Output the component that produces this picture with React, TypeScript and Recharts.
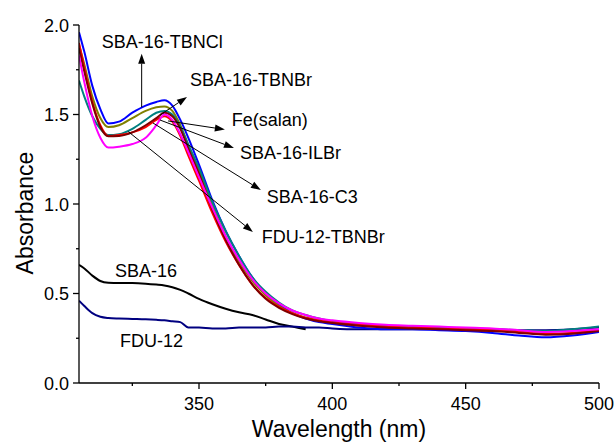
import React from "react";
import { LineChart, Line, XAxis, YAxis, ReferenceLine, ReferenceDot } from "recharts";

// wavelength grid (nm)
const wavelength = [305, 307, 310, 313, 316, 320, 325, 330, 334, 337, 340, 343, 346, 350, 355, 360, 365, 370, 375, 380, 385, 390, 395, 400, 410, 420, 430, 440, 450, 460, 470, 480, 490, 500];

const tbncl = [1.96, 1.85, 1.66, 1.53, 1.45, 1.46, 1.51, 1.55, 1.57, 1.58, 1.55, 1.47, 1.37, 1.22, 1.02, 0.85, 0.71, 0.59, 0.5, 0.44, 0.39, 0.36, 0.34, 0.33, 0.31, 0.3, 0.3, 0.295, 0.29, 0.28, 0.265, 0.255, 0.265, 0.285];
const tbnbr = [1.89, 1.78, 1.6, 1.48, 1.43, 1.44, 1.48, 1.52, 1.54, 1.545, 1.52, 1.44, 1.33, 1.19, 0.99, 0.82, 0.68, 0.57, 0.49, 0.43, 0.39, 0.365, 0.35, 0.34, 0.325, 0.315, 0.31, 0.305, 0.3, 0.295, 0.285, 0.275, 0.28, 0.295];
const fesalan = [1.69, 1.6, 1.49, 1.42, 1.385, 1.39, 1.42, 1.47, 1.51, 1.52, 1.5, 1.43, 1.33, 1.2, 1.01, 0.85, 0.71, 0.59, 0.51, 0.45, 0.405, 0.38, 0.36, 0.345, 0.33, 0.32, 0.315, 0.31, 0.305, 0.3, 0.295, 0.29, 0.3, 0.315];
const ilbr = [1.87, 1.74, 1.56, 1.43, 1.378, 1.38, 1.4, 1.44, 1.48, 1.51, 1.49, 1.42, 1.31, 1.17, 0.97, 0.8, 0.66, 0.55, 0.47, 0.42, 0.385, 0.36, 0.345, 0.335, 0.32, 0.31, 0.305, 0.3, 0.295, 0.29, 0.28, 0.27, 0.275, 0.29];
const c3 = [1.9, 1.76, 1.57, 1.44, 1.38, 1.385, 1.4, 1.43, 1.47, 1.49, 1.46, 1.38, 1.27, 1.13, 0.95, 0.79, 0.66, 0.55, 0.475, 0.425, 0.39, 0.365, 0.35, 0.34, 0.325, 0.315, 0.31, 0.305, 0.3, 0.295, 0.285, 0.275, 0.28, 0.295];
const fdutbnbr = [1.83, 1.68, 1.49, 1.37, 1.315, 1.32, 1.335, 1.37, 1.44, 1.5, 1.47, 1.39, 1.29, 1.15, 0.98, 0.82, 0.69, 0.58, 0.5, 0.445, 0.405, 0.38, 0.36, 0.35, 0.335, 0.325, 0.32, 0.315, 0.31, 0.305, 0.295, 0.285, 0.29, 0.3];
const sba16 = [0.66, 0.64, 0.6, 0.57, 0.56, 0.558, 0.558, 0.555, 0.55, 0.545, 0.535, 0.52, 0.5, 0.47, 0.44, 0.415, 0.395, 0.38, 0.355, 0.33, 0.315, 0.3, null, null, null, null, null, null, null, null, null, null, null, null];
const fdu12 = [0.46, 0.43, 0.39, 0.37, 0.363, 0.36, 0.358, 0.356, 0.353, 0.35, 0.345, 0.34, 0.31, 0.31, 0.305, 0.305, 0.31, 0.31, 0.31, 0.315, 0.315, 0.31, 0.31, 0.305, 0.3, 0.3, 0.3, 0.3, 0.3, 0.3, 0.295, 0.295, 0.3, 0.31];

const series = [
  { key: "sba16", color: "#000000", values: sba16 },
  { key: "fdu12", color: "#000080", values: fdu12 },
  { key: "tbncl", color: "#0000ff", values: tbncl },
  { key: "tbnbr", color: "#808000", values: tbnbr },
  { key: "fesalan", color: "#008080", values: fesalan },
  { key: "c3", color: "#ff0000", values: c3 },
  { key: "ilbr", color: "#800000", values: ilbr },
  { key: "fdutbnbr", color: "#ff00ff", values: fdutbnbr },
];

// curve labels and their arrows (data coordinates)
const labelText = ["SBA-16-TBNCl", "SBA-16-TBNBr", "Fe(salan)", "SBA-16-ILBr", "SBA-16-C3", "FDU-12-TBNBr", "SBA-16", "FDU-12"];
const labelX = [313.5, 346.6, 362.3, 365.4, 375.4, 373.5, 318.5, 320.4];
const labelY = [1.907, 1.693, 1.473, 1.287, 1.041, 0.816, 0.627, 0.24];
const arrowFrom = [[328.5, 1.54], [335.4, 1.497], [338.4, 1.464], [335.4, 1.469], [332.7, 1.453], [323.5, 1.404]];
const arrowTo = [[328.5, 1.84], [345.5, 1.598], [359.7, 1.416], [363.1, 1.313], [373.2, 1.078], [370.2, 0.844]];

const xTicks = [325, 350, 375, 400, 425, 450, 475, 500];
const yTicks = [0, 0.25, 0.5, 0.75, 1, 1.25, 1.5, 1.75, 2];

const font = "'Liberation Sans', Arial, sans-serif";

const data = wavelength.map((w, i) => {
  const row: any = { w };
  series.forEach((s) => (row[s.key] = s.values[i]));
  return row;
});

const XTick = (props: any) => {
  const { x, y, payload } = props;
  const major = payload.value % 50 === 0;
  return (
    <g>
      <line x1={x} y1={y} x2={x} y2={y + (major ? 6 : 3)} stroke="#000" strokeWidth={1.3} />
      {major && (
        <text x={x} y={y + 27} textAnchor="middle" fontSize={18} fontFamily={font} fill="#000">
          {payload.value}
        </text>
      )}
    </g>
  );
};

const YTick = (props: any) => {
  const { x, y, payload } = props;
  const major = Math.abs((payload.value * 2) % 1) < 1e-6;
  return (
    <g>
      <line x1={x} y1={y} x2={x - (major ? 6 : 3)} y2={y} stroke="#000" strokeWidth={1.3} />
      {major && (
        <text x={x - 10} y={y + 6.5} textAnchor="end" fontSize={18} fontFamily={font} fill="#000">
          {payload.value.toFixed(1)}
        </text>
      )}
    </g>
  );
};

const Arrow = (props: any) => {
  const { x1, y1, x2, y2 } = props;
  const a = Math.atan2(y2 - y1, x2 - x1);
  const len = 10;
  const w = 3.5;
  const bx = x2 - len * Math.cos(a);
  const by = y2 - len * Math.sin(a);
  const p1 = `${bx + w * Math.sin(a)},${by - w * Math.cos(a)}`;
  const p2 = `${bx - w * Math.sin(a)},${by + w * Math.cos(a)}`;
  return (
    <g>
      <line x1={x1} y1={y1} x2={bx} y2={by} stroke="#000" strokeWidth={1} />
      <polygon points={`${x2},${y2} ${p1} ${p2}`} fill="#000" />
    </g>
  );
};

export default function App() {
  return (
    <div style={{ position: "absolute", left: 0, top: 0, width: 615, height: 443, background: "#fff" }}>
      <LineChart width={615} height={443} data={data} margin={{ top: 25, right: 16, bottom: 5, left: 19 }}>
        <XAxis
          type="number"
          dataKey="w"
          domain={[305, 500]}
          ticks={xTicks}
          interval={0}
          allowDataOverflow
          tickSize={0}
          tickMargin={0}
          tickLine={false}
          tick={<XTick />}
          height={55}
          axisLine={{ stroke: "#000", strokeWidth: 1.3 }}
        />
        <YAxis
          type="number"
          domain={[0, 2]}
          ticks={yTicks}
          interval={0}
          allowDataOverflow
          tickSize={0}
          tickMargin={0}
          tickLine={false}
          tick={<YTick />}
          width={60}
          axisLine={{ stroke: "#000", strokeWidth: 1.3 }}
        />
        {series.map((s) => (
          <Line
            key={s.key}
            dataKey={s.key}
            type="monotone"
            stroke={s.color}
            strokeWidth={2}
            dot={false}
            connectNulls={false}
            isAnimationActive={false}
          />
        ))}
        {arrowFrom.map((f, i) => (
          <ReferenceLine
            key={"a" + i}
            segment={[
              { x: f[0], y: f[1] },
              { x: arrowTo[i][0], y: arrowTo[i][1] },
            ]}
            shape={<Arrow />}
          />
        ))}
        {labelText.map((t, i) => (
          <ReferenceDot
            key={"l" + i}
            x={labelX[i]}
            y={labelY[i]}
            r={0}
            shape={(p: any) => (
              <text x={p.cx} y={p.cy + 6.5} fontSize={18} fontFamily={font} fill="#000">
                {t}
              </text>
            )}
          />
        ))}
      </LineChart>
      <svg width={615} height={443} style={{ position: "absolute", left: 0, top: 0, pointerEvents: "none" }}>
        <text x={339} y={437} textAnchor="middle" fontSize={23} fontFamily={font} fill="#000">
          Wavelength (nm)
        </text>
        <text x={33} y={213} textAnchor="middle" fontSize={23} fontFamily={font} fill="#000" transform="rotate(-90 33 213)">
          Absorbance
        </text>
      </svg>
    </div>
  );
}
